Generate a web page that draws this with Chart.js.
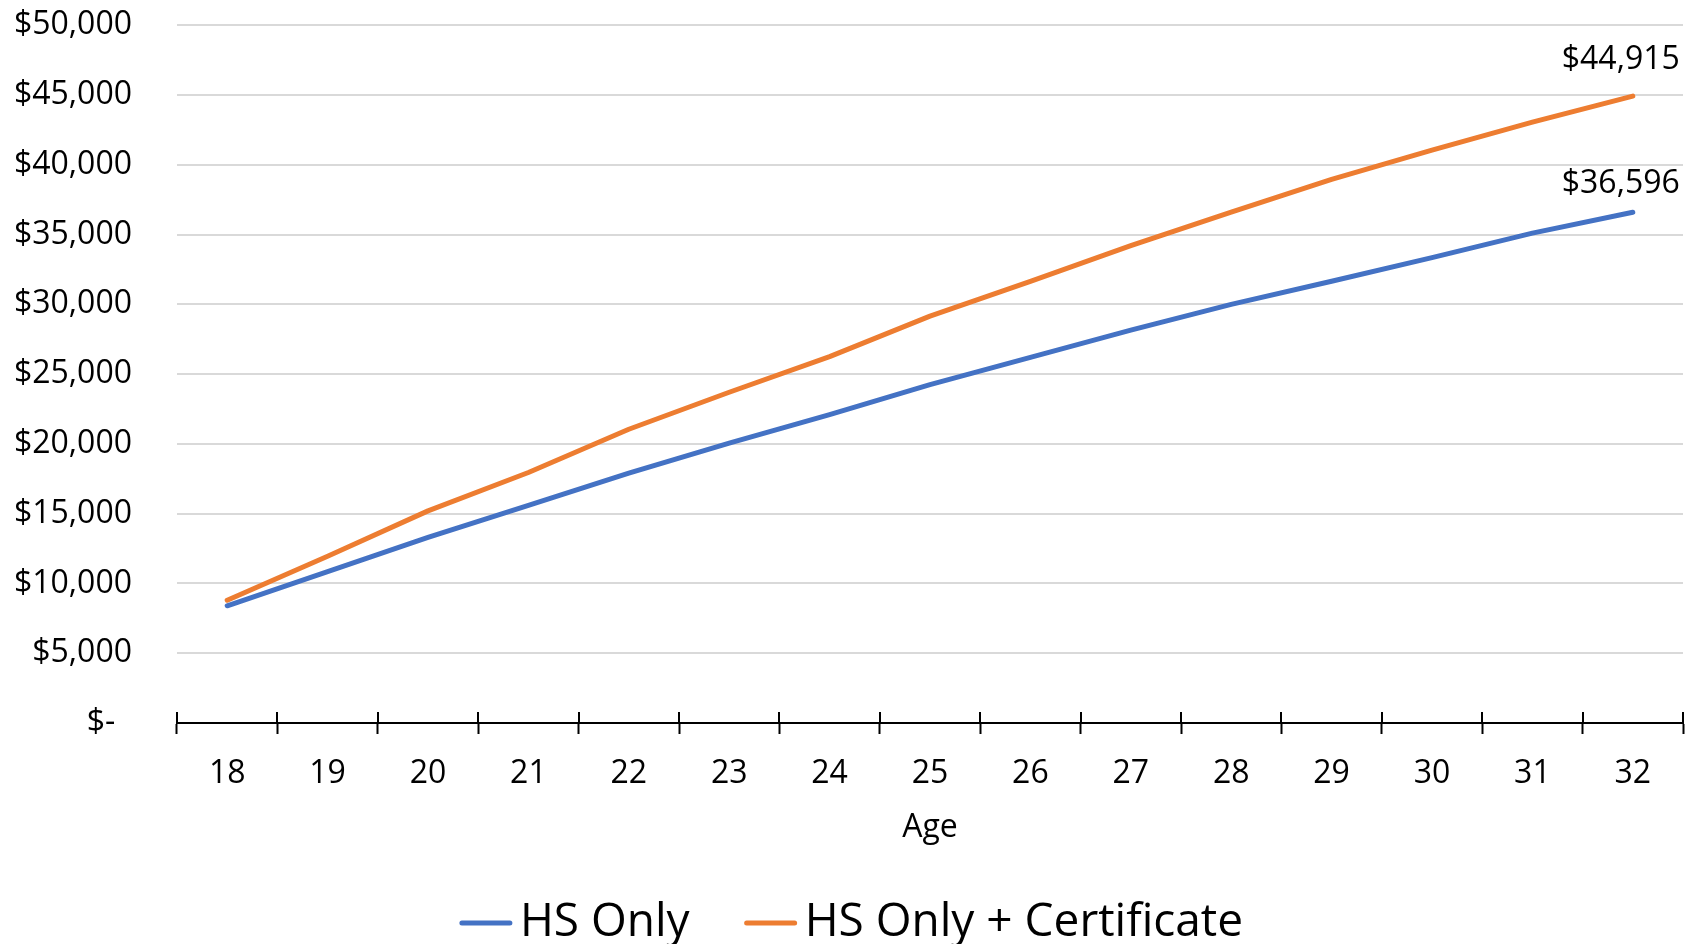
<!DOCTYPE html>
<html>
<head>
<meta charset="utf-8">
<script src="https://cdn.jsdelivr.net/npm/chart.js@4.4.1/dist/chart.umd.min.js"></script>
<style>
  html, body { margin: 0; padding: 0; background: #fff; overflow: hidden; }
  #wrap { width: 1699px; height: 944px; }
</style>
</head>
<body>
<div id="wrap"><canvas id="myChart"></canvas></div>
<script>
    const ages = ["18", "19", "20", "21", "22", "23", "24", "25", "26", "27", "28", "29", "30", "31", "32"];
    const hsOnly = [8400, 10850, 13300, 15600, 17900, 20050, 22100, 24250, 26200, 28150, 30000, 31650, 33350, 35100, 36596];
    const hsCert = [8800, 11950, 15200, 17950, 21050, 23700, 26250, 29150, 31650, 34200, 36600, 38950, 41050, 43050, 44915];
    const yMax = 50000;
    const yStep = 5000;

    const FONT = '"Open Sans", "Noto Sans", sans-serif';

    function money(v) {
        if (v === 0) return "$-  ";
        return "$" + v.toLocaleString("en-US");
    }

    // tick marks that cross the x axis (upper half; lower half is the grid tick)
    const crossTicks = {
        id: 'crossTicks',
        afterDraw(chart) {
            const x = chart.scales.x;
            const ctx = chart.ctx;
            const w = (x.right - x.left) / ages.length;
            ctx.save();
            ctx.strokeStyle = '#000';
            ctx.lineWidth = 2;
            for (let i = 0; i <= ages.length; i++) {
                let px = Math.round(x.left + i * w);
                ctx.beginPath();
                ctx.moveTo(px, x.top - 11);
                ctx.lineTo(px, x.top);
                ctx.stroke();
            }
            ctx.restore();
        }
    };

    // value labels on the last point of each line
    const endLabels = {
        id: 'endLabels',
        afterDatasetsDraw(chart) {
            const ctx = chart.ctx;
            const lift = [28, 36];
            ctx.save();
            ctx.font = '32px ' + FONT;
            ctx.fillStyle = '#000';
            ctx.textAlign = 'center';
            ctx.textBaseline = 'middle';
            chart.data.datasets.forEach((ds, i) => {
                const meta = chart.getDatasetMeta(i);
                const last = meta.data[meta.data.length - 1];
                const v = ds.data[ds.data.length - 1];
                ctx.fillText(money(v), last.x - 12, last.y - lift[i]);
            });
            ctx.restore();
        }
    };

    // legend drawn like the excel one (short gap between line sample and text)
    const lineLegend = {
        id: 'lineLegend',
        afterDraw(chart) {
            const ctx = chart.ctx;
            ctx.save();
            ctx.font = '46px ' + FONT;
            ctx.textBaseline = 'middle';
            const sample = 52, gap = 8, between = 55;
            const items = chart.data.datasets.map(ds => ({
                text: ds.label, color: ds.borderColor, w: ctx.measureText(ds.label).width
            }));
            let total = 0;
            items.forEach((it, i) => { total += sample + gap + it.w + (i > 0 ? between : 0); });
            let x = chart.width / 2 + 2 - total / 2;
            const y = 923;
            items.forEach(it => {
                ctx.strokeStyle = it.color;
                ctx.lineWidth = 5;
                ctx.lineCap = 'round';
                ctx.beginPath();
                ctx.moveTo(x + 2, y);
                ctx.lineTo(x + sample - 2, y);
                ctx.stroke();
                ctx.fillStyle = '#000';
                ctx.fillText(it.text, x + sample + gap, y);
                x += sample + gap + it.w + between;
            });
            ctx.restore();
        }
    };

    let ctx = document.getElementById('myChart').getContext('2d');
    let chart = new Chart(ctx, {
        type: 'line',
        data: {
            labels: ages,
            datasets: [{
                label: 'HS Only',
                data: hsOnly,
                borderColor: '#4472C4',
                backgroundColor: '#4472C4',
                borderWidth: 5,
                borderCapStyle: 'round',
                borderJoinStyle: 'round',
                pointRadius: 0,
                fill: false,
                tension: 0
            }, {
                label: 'HS Only + Certificate',
                data: hsCert,
                borderColor: '#ED7D31',
                backgroundColor: '#ED7D31',
                borderWidth: 5,
                borderCapStyle: 'round',
                borderJoinStyle: 'round',
                pointRadius: 0,
                fill: false,
                tension: 0
            }]
        },
        options: {
            responsive: true,
            maintainAspectRatio: false,
            animation: false,
            layout: { padding: { top: 25, right: 16, bottom: 97, left: 0 } },
            plugins: {
                legend: { display: false },
                tooltip: { enabled: false }
            },
            scales: {
                x: {
                    offset: true,
                    grid: {
                        offset: true,
                        drawOnChartArea: false,
                        drawTicks: true,
                        tickLength: 11,
                        tickWidth: 2,
                        tickColor: '#000'
                    },
                    border: { display: true, color: '#000', width: 2 },
                    ticks: {
                        color: '#000',
                        font: { family: FONT, size: 32 },
                        padding: 21,
                        maxRotation: 0,
                        autoSkip: false
                    },
                    title: {
                        display: true,
                        text: 'Age',
                        color: '#000',
                        font: { family: FONT, size: 32 },
                        padding: { top: 0, bottom: 0 }
                    },
                    afterFit(scale) { scale.height = 124; }
                },
                y: {
                    min: 0,
                    max: yMax,
                    grid: {
                        color: '#d9d9d9',
                        lineWidth: 2,
                        drawTicks: true,
                        tickLength: 39,
                        tickColor: 'rgba(0,0,0,0)'
                    },
                    border: { display: false },
                    ticks: {
                        stepSize: yStep,
                        color: '#000',
                        font: { family: FONT, size: 32 },
                        padding: 6,
                        callback: (v) => money(v)
                    },
                    afterFit(scale) { scale.width = 177; }
                }
            }
        },
        plugins: [crossTicks, endLabels, lineLegend]
    });
</script>
</body>
</html>
